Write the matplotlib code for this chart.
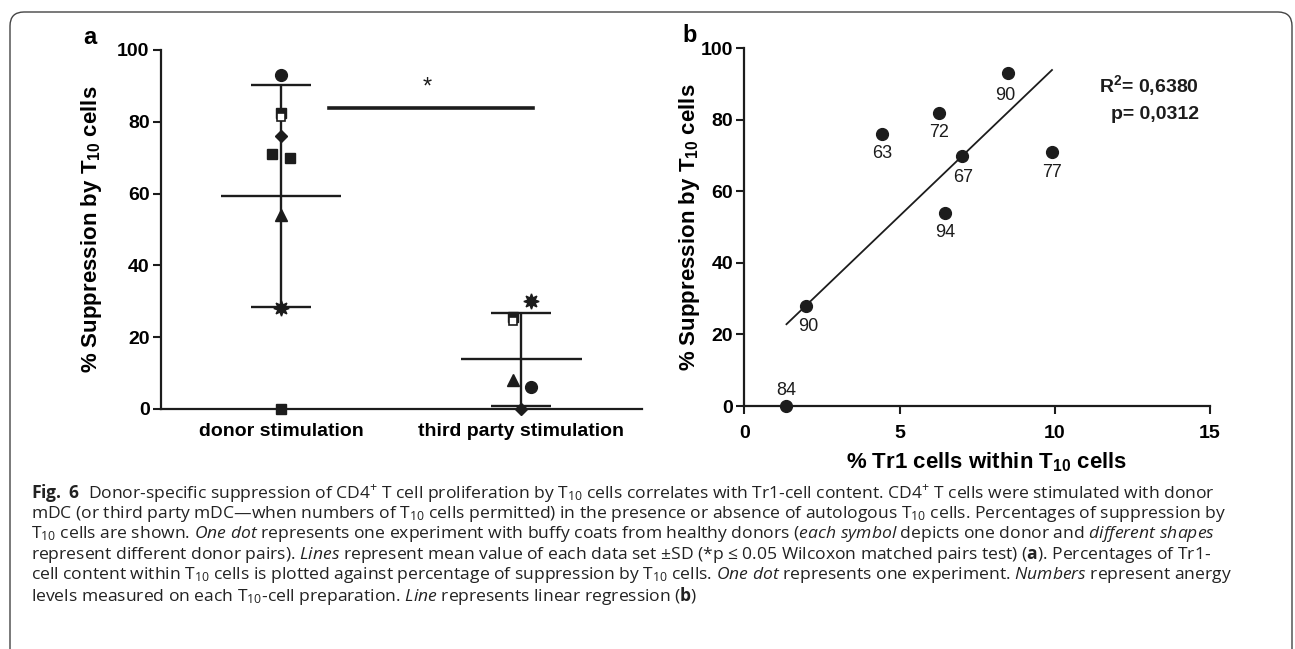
import numpy as np
import matplotlib.pyplot as plt
from matplotlib.patches import FancyBboxPatch
from matplotlib.transforms import offset_copy

plt.rcParams['mathtext.fontset'] = 'custom'
plt.rcParams['mathtext.rm'] = 'Open Sans'
plt.rcParams['mathtext.it'] = 'Open Sans:italic'
plt.rcParams['mathtext.bf'] = 'Open Sans:bold'
plt.rcParams['mathtext.sf'] = 'Liberation Sans:bold'

# --- data, panel a ---
categories = ["donor stimulation", "third party stimulation"]
donor_vals = [93, 82, 76, 71, 70, 54, 28, 0]
donor_marks = ["o", "pair", "D", "s", "s", "^", "burst", "s"]
donor_dx = [0, 0, 0, -0.037, 0.038, 0, 0, 0]
third_vals = [30, 25, 8, 6, 0]
third_marks = ["burst", "pair", "^", "o", "D"]
third_dx = [0.038, -0.037, -0.037, 0.038, 0]

# --- data, panel b ---
tr1_pct = [1.36, 1.98, 4.43, 6.26, 7.00, 6.46, 8.50, 9.91]
supp_pct = [0, 28, 76, 82, 70, 54, 93, 71]
anergy = [84, 90, 63, 72, 67, 94, 90, 77]

INK = '#1c1c1c'
ARIAL = ['Liberation Sans', 'DejaVu Sans']
NARROW = ['Liberation Sans Narrow', 'Liberation Sans', 'DejaVu Sans']
CAPF = ['Open Sans', 'DejaVu Sans']

fig = plt.figure(figsize=(12.95, 6.49), dpi=100)

# background layer in pixel coords (frame + caption)
bg = fig.add_axes([0, 0, 1, 1], zorder=-1)
bg.set_xlim(0, 1295)
bg.set_ylim(649, 0)
bg.axis('off')
bg.add_patch(FancyBboxPatch((10, 12), 1282, 700, boxstyle="round,pad=0,rounding_size=14",
                            fc='white', ec='#444444', lw=1.0))

styles = {
    "o": dict(marker="o", ms=8.5),
    "s": dict(marker="s", ms=7.5),
    "D": dict(marker="D", ms=6.5),
    "^": dict(marker="^", ms=8),
    "burst": dict(marker=(8, 1, 0), ms=11),
}


def draw_point(ax, x, y, kind):
    if kind == "pair":
        up = offset_copy(ax.transData, fig=fig, x=0, y=1.4, units='points')
        dn = offset_copy(ax.transData, fig=fig, x=0, y=-1.4, units='points')
        ax.plot([x], [y], marker='s', ms=7, color=INK, ls='none', transform=up,
                clip_on=False, zorder=4)
        ax.plot([x], [y], marker='s', ms=6.3, mfc='white', mec=INK, mew=1.2,
                ls='none', transform=dn, clip_on=False, zorder=5)
    else:
        ax.plot([x], [y], color=INK, ls='none', clip_on=False, zorder=4, **styles[kind])


# ---------------- panel a ----------------
ax = fig.add_axes([0.1241, 0.3698, 0.3714, 0.5532])
groups = [(donor_vals, donor_marks, donor_dx), (third_vals, third_marks, third_dx)]
for i, (vals, marks, dxs) in enumerate(groups):
    vals = np.array(vals, dtype=float)
    m, sd = vals.mean(), vals.std(ddof=1)
    ax.vlines(i, m - sd, m + sd, color=INK, lw=1.7, zorder=3)
    ax.hlines([m - sd, m + sd], i - 0.125, i + 0.125, color=INK, lw=1.7, zorder=3)
    ax.hlines(m, i - 0.25, i + 0.25, color=INK, lw=1.7, zorder=3)
    for v, mk, dx in zip(vals, marks, dxs):
        draw_point(ax, i + dx, v, mk)

ax.plot([0.2, 1.05], [83.7, 83.7], color=INK, lw=2.6)
ax.text(0.607, 86.5, "*", ha='center', va='bottom', fontsize=17, family=ARIAL, color=INK)

ax.set_xlim(-0.5, 1.5)
ax.set_ylim(0, 100)
ax.spines['top'].set_visible(False)
ax.spines['right'].set_visible(False)
for s in ('left', 'bottom'):
    ax.spines[s].set_linewidth(1.6)
    ax.spines[s].set_color(INK)
ax.set_yticks(np.arange(0, 101, 20))
ax.set_yticklabels([str(t) for t in range(0, 101, 20)], fontsize=14,
                   fontweight='bold', family=NARROW)
ax.set_xticks([0, 1])
ax.set_xticklabels(categories, fontsize=14, fontweight='bold', family=ARIAL)
ax.tick_params(axis='y', length=5.5, width=1.5, pad=2.5, color=INK)
ax.tick_params(axis='x', length=0, pad=10)
ax.set_ylabel(r"% Suppression by $\mathsf{T}_{\mathsf{10}}$ cells", fontsize=16,
              fontweight='bold', family=ARIAL)
ax.yaxis.set_label_coords(-0.118, 0.5)

# ---------------- panel b ----------------
bx = fig.add_axes([0.5747, 0.3744, 0.3597, 0.5512])
bx.plot(tr1_pct, supp_pct, 'o', color=INK, ms=8.5, clip_on=False, zorder=4)
k, b0 = np.polyfit(tr1_pct, supp_pct, 1)
xs = np.array([min(tr1_pct), max(tr1_pct)])
bx.plot(xs, k * xs + b0, color=INK, lw=1.3)

label_dx = [0, 1.5, 0, 0, 1, 0, -2, 0]
label_dy = [11, -15, -14, -14, -16, -14, -16, -15]
for x, y, t, ddx, ddy in zip(tr1_pct, supp_pct, anergy, label_dx, label_dy):
    bx.annotate(str(t), (x, y), xytext=(ddx, ddy), textcoords='offset points',
                ha='center', va='center', fontsize=13, family=NARROW, color=INK)

bx.text(14.65, 89.7, r"R$^{\mathsf{2}}$= 0,6380", ha='right', va='center', fontsize=14,
        fontweight='bold', family=NARROW, color=INK)
bx.text(14.65, 81.4, "p= 0,0312", ha='right', va='center', fontsize=14,
        fontweight='bold', family=NARROW, color=INK)

bx.set_xlim(0, 15)
bx.set_ylim(0, 100)
bx.spines['top'].set_visible(False)
bx.spines['right'].set_visible(False)
for s in ('left', 'bottom'):
    bx.spines[s].set_linewidth(1.6)
    bx.spines[s].set_color(INK)
bx.set_xticks([0, 5, 10, 15])
bx.set_xticklabels(['0', '5', '10', '15'], fontsize=14, fontweight='bold', family=NARROW)
bx.set_yticks(np.arange(0, 101, 20))
bx.set_yticklabels([str(t) for t in range(0, 101, 20)], fontsize=14,
                   fontweight='bold', family=NARROW)
bx.tick_params(axis='both', length=5.5, width=1.5, color=INK)
bx.tick_params(axis='x', pad=8)
bx.tick_params(axis='y', pad=2.5)
bx.set_ylabel(r"% Suppression by $\mathsf{T}_{\mathsf{10}}$ cells", fontsize=16,
              fontweight='bold', family=ARIAL)
bx.yaxis.set_label_coords(-0.09, 0.5)
bx.text(0.521, -0.157, r"% Tr1 cells within $\mathsf{T}_{\mathsf{10}}$ cells",
        transform=bx.transAxes, ha='center', va='center', fontsize=16,
        fontweight='bold', family=NARROW)

# panel letters
bg.text(90, 37, "a", ha='center', va='center', fontsize=17, fontweight='bold', family=ARIAL)
bg.text(690, 35, "b", ha='center', va='center', fontsize=17, fontweight='bold', family=ARIAL)

# caption
caption = [
    r"$\mathbf{Fig.\ 6}$  Donor-specific suppression of CD4$^{+}$ T cell proliferation by T$_{10}$ cells correlates with Tr1-cell content. CD4$^{+}$ T cells were stimulated with donor",
    r"mDC (or third party mDC—when numbers of T$_{10}$ cells permitted) in the presence or absence of autologous T$_{10}$ cells. Percentages of suppression by",
    r"T$_{10}$ cells are shown. $\mathit{One\ dot}$ represents one experiment with buffy coats from healthy donors ($\mathit{each\ symbol}$ depicts one donor and $\mathit{different\ shapes}$",
    r"represent different donor pairs). $\mathit{Lines}$ represent mean value of each data set ±SD (*p ≤ 0.05 Wilcoxon matched pairs test) ($\mathbf{a}$). Percentages of Tr1-",
    r"cell content within T$_{10}$ cells is plotted against percentage of suppression by T$_{10}$ cells. $\mathit{One\ dot}$ represents one experiment. $\mathit{Numbers}$ represent anergy",
    r"levels measured on each T$_{10}$-cell preparation. $\mathit{Line}$ represents linear regression ($\mathbf{b}$)",
]
for i, line in enumerate(caption):
    bg.text(31, 493 + 20.6 * i, line, ha='left', va='center', fontsize=12.6,
            family=CAPF, color='#222222')

fig.savefig("out.png", dpi=100)
